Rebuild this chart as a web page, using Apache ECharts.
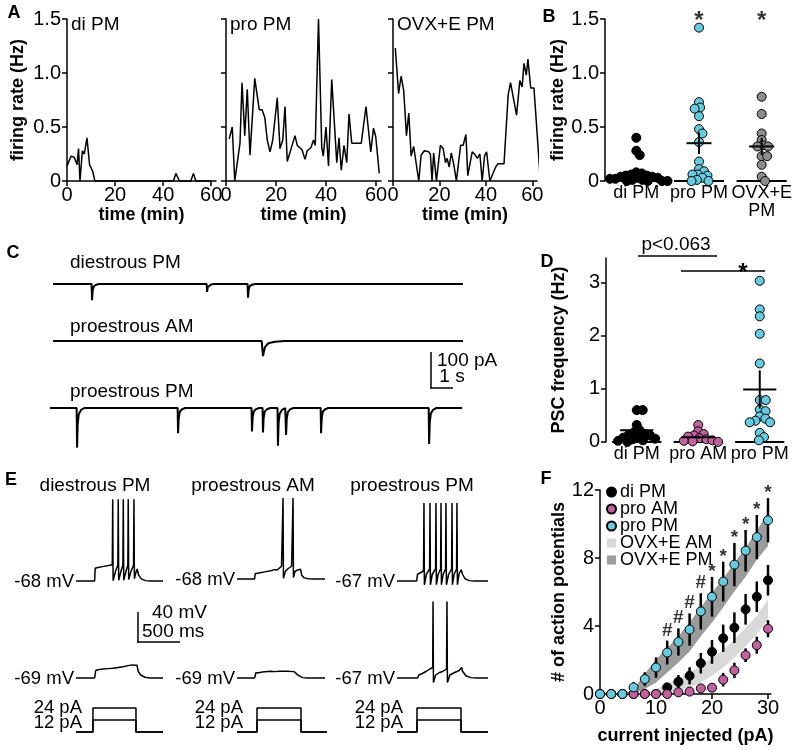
<!DOCTYPE html>
<html><head><meta charset="utf-8">
<script src="https://cdn.jsdelivr.net/npm/echarts@6/dist/echarts.min.js"></script>
<style>html,body{margin:0;padding:0;background:#fff}#c{width:800px;height:750px}</style>
</head><body><div id="c"></div>
<script>
// ================= DATA =================
// Panel A: firing rate traces [time (min), rate (Hz)]
const aTitles = ['di PM', 'pro PM', 'OVX+E PM'];
const aTicks = [0, 20, 40, 60];
const aDiPM = [[0,0.14],[1.7,0.23],[3,0.22],[4.2,0.15],[4.8,0.30],[5.4,0],[6.4,0.28],[7.2,0.25],[8.3,0.40],[9.4,0.15],[10.7,0.09],[11.6,0],[44.3,0],[45.3,0.07],[46.8,0],[51.5,0],[52.6,0.07],[53.6,0],[60,0]];
const aProPM = [[1.3,0.39],[2.5,0.50],[3.5,0],[5.6,0.35],[6.4,0.91],[7.5,0.42],[8.5,0.85],[9.6,0.24],[11.5,0.95],[13.3,0.66],[14.4,0.66],[15.5,0.59],[16.5,0.38],[17.6,0.27],[18.7,0.38],[20.5,0.77],[21.6,0.30],[22.7,0.38],[23.6,0.69],[24.5,0.18],[27.6,0.42],[28.5,0.33],[30.4,0.29],[31.6,0.20],[32.5,0.28],[34,0.31],[35,0.38],[35.7,0.33],[37,1.5],[38.3,0.31],[38.9,0.23],[40,0.50],[41,0.14],[42.3,0.94],[44.3,0.17],[45.2,0.40],[46.1,0.10],[47.2,0.33],[48.3,0.17],[49.2,0.62],[50.3,0.35],[54.1,0.35],[56,0.69],[57.9,0.27],[59,0.49],[59.9,0.41],[61.3,0.07]];
const aOvxPM = [[1,1.23],[2.4,0.81],[3.5,0.97],[4.6,0.84],[5.8,0.42],[6.8,0.63],[7.8,0.23],[8.9,0.32],[11.1,0],[12.1,0.24],[13.5,0.28],[15.4,0.27],[16.1,0.25],[16.8,0],[17.5,0.26],[18.7,0],[20.4,0.33],[21.6,0.30],[22.6,0.17],[23.3,0.21],[24.2,0.13],[25.1,0.26],[26.2,0.15],[27.3,0],[29.1,0.33],[30.2,0.33],[31.4,0.43],[32.2,0.05],[34.1,0.27],[35.1,0.25],[36.3,0.21],[37.4,0.25],[38.4,0],[39.4,0.23],[40.3,0.27],[41.7,0],[44.2,0.13],[45.2,0.16],[47.8,0.16],[49.6,0.80],[50.6,0.91],[53.2,0.61],[54.6,0.93],[55.6,0.87],[56.4,1.09],[57.4,0.98],[58.1,1.13],[59.3,0.86],[60.7,0.86],[63.3,0.05]];

// Panel B: firing rate per cell (Hz)
const bCats = ['di PM', 'pro PM', 'OVX+E\nPM'];
const bDiPM = [0.40,0.28,0.24,0.08,0.07,0.06,0.05,0.05,0.04,0.04,0.03,0.03,0.02,0.02,0.01,0.01,0,0,0,0];
const bProPM = [1.42,0.73,0.68,0.67,0.60,0.48,0.44,0.36,0.18,0.11,0.09,0.06,0.06,0.05,0.03,0.01,0,0];
const bOvxPM = [0.78,0.62,0.44,0.38,0.33,0.32,0.32,0.23,0.23,0.15,0.04,0];
const bMean = [0.08, 0.35, 0.32];
const bSem = [0.035, 0.10, 0.08];
const bSig = ['', '*', '*'];

// Panel C: PSC events [time (s), amplitude (pA)]
const cLabels = ['diestrous PM', 'proestrous AM', 'proestrous PM'];
const cDiEvents = [[1.91,45],[7.14,22],[9.0,38]];
const cAmEvents = [[9.68,42]];
const cPmEvents = [[1.23,110],[5.82,70],[9.18,65],[9.68,68],[10.36,105],[10.73,75],[12.32,70],[17.23,100]];
const cSpan = [[0.14,18.77],[0.14,18.77],[0,18.73]];
const cDecay = [1, 3, 1];

// Panel D: PSC frequency per cell (Hz)
const dCats = ['di PM', 'pro AM', 'pro PM'];
const dDiPM = [0.60,0.60,0.32,0.22,0.18,0.15,0.13,0.12,0.10,0.08,0.06,0.05,0.03,0.02,0];
const dProAM = [0.32,0.20,0.15,0.12,0.10,0.07,0.05,0.03,0.02,0.01,0];
const dProPM = [3.04,2.50,2.37,2.04,1.48,0.79,0.79,0.61,0.58,0.48,0.44,0.40,0.37,0.37,0.17,0.09,0.03];
const dMean = [0.22, 0.09, 0.99];
const dSem = [0.06, 0.03, 0.36];

// Panel E: membrane potential traces [time (ms), mV]
const eTitles = ['diestrous PM', 'proestrous AM', 'proestrous PM'];
const eTopBaseMv = [-68, -68, -67];
const eBotBaseMv = [-69, -69, -67];
const eTop1 = [[0,-68],[222,-68],[228,-51],[260,-50],[330,-48.5],[405,-47],[432,-46],[437,41],[442,-67.5],[470,-55],[498,-47],[503,41],[508,-67],[535,-55],[558,-47],[563,41],[568,-67],[595,-55],[617,-47],[622,41],[627,-66],[655,-55],[685,-47],[690,41],[695,-65],[712,-57],[728,-52],[745,-60],[780,-65.5],[830,-67.5],[880,-68],[1036,-68]];
const eTop2 = [[0,-68],[210,-68],[216,-61],[260,-60],[330,-58.5],[400,-57],[450,-55.5],[470,-53],[478,-56],[500,-54],[530,-51],[543,-49],[548,40],[553,-67],[575,-58],[610,-54],[650,-51],[662,-49],[667,40],[672,-66],[690,-58],[720,-56],[758,-55],[770,-63],[800,-66.5],[850,-67.7],[920,-68],[1048,-68]];
const eTop3 = [[0,-67],[234,-67],[244,-58],[280,-56],[310,-54],[316,-50],[321,37],[326,-72],[350,-58],[388,-51],[393,37],[398,-72],[420,-58],[459,-51],[464,37],[469,-72],[490,-58],[519,-51],[524,37],[529,-72],[550,-58],[578,-51],[583,37],[588,-72],[615,-58],[650,-51],[655,37],[660,-72],[680,-58],[709,-51],[714,37],[719,-72],[740,-57],[765,-52],[780,-58],[810,-64],[860,-66.5],[920,-67],[1083,-67]];
const eBot1 = [[0,-69],[222,-69],[235,-59],[260,-58],[320,-57],[380,-56.5],[440,-56],[500,-55],[560,-54],[620,-52.5],[667,-51.5],[700,-52],[726,-52],[740,-60],[770,-65],[820,-68],[880,-69],[1036,-69]];
const eBot2 = [[0,-69],[210,-69],[225,-62],[260,-62],[300,-61],[400,-60],[450,-60.5],[500,-60],[600,-60],[680,-60.5],[700,-62],[730,-65.5],[780,-68.5],[830,-69],[1048,-69]];
const eBot3 = [[0,-67],[245,-67],[260,-63],[300,-61],[350,-58],[390,-55],[425,-53],[429,35],[434,-73],[460,-63],[500,-60],[550,-58],[590,-55],[595,35],[600,-73],[630,-63],[680,-60],[740,-57],[770,-53],[780,-58],[820,-64],[880,-66.5],[950,-67],[1083,-67]];
const eStepAmps = [24, 12];
const eStepOn = [202, 238, 238];
const eStepOff = [714, 762, 762];
const eStepEnd = [1036, 1071, 1083];

// Panel F: action potentials vs current
const fCurrent = [0,2,4,6,8,10,12,14,16,18,20,22,24,26,28,30];
const fDiPM    = [0,0,0,0,0,0,0.39,0.72,1.07,1.81,2.48,3.28,3.90,4.98,5.72,6.69];
const fDiErr   = [0,0,0,0,0,0,0.2,0.4,0.5,0.6,0.7,0.8,0.9,0.9,0.9,0.9];
const fProAM   = [0,0,0,0,0,0,0,0.10,0.14,0.33,0.37,0.84,1.39,2.28,2.87,3.84];
const fAMErr   = [0,0,0,0,0,0,0,0.1,0.1,0.2,0.25,0.4,0.45,0.4,0.5,0.5];
const fProPM   = [0,0,0,0.39,0.88,1.56,2.44,3.06,3.79,4.86,5.72,6.61,7.61,8.43,9.23,10.22];
const fPMErr   = [0,0,0,0.3,0.4,0.6,0.7,0.8,0.95,1.07,1.17,1.17,1.27,1.22,1.3,1.3];
const fOvxAMLow  = [0,0,0,0,0,0,0.1,0.2,0.39,0.68,1.07,1.56,2.15,2.83,3.5,4.4];
const fOvxAMHigh = [0,0,0,0,0.05,0.3,0.58,0.88,1.27,1.66,2.1,2.6,3.2,3.9,4.6,5.56];
const fOvxPMLow  = [0,0,0,0,0.3,0.68,1.27,1.85,2.5,3.4,4.2,5.1,6.05,6.9,7.9,8.7];
const fOvxPMHigh = [0,0,0,0.3,1.17,2.05,2.7,3.4,4.2,5.1,5.95,6.8,7.7,8.6,9.6,10.7];
const fSig = ['','','','','','','#','#','#','#','*','*','*','*','*','*'];

// ================= STYLE / LAYOUT =================
const FONT = '"Liberation Sans", Arial, Helvetica, sans-serif';
const TICK = 20, TXT = 19, CAT = 18, NAME = 18;
const CYAN = '#67cbe0', PURPLE = '#c1609f', GRAYPT = '#8c8c8c', BAND_AM = '#d9d9d9', BAND_PM = '#9b9b9b';
const EVENT_SHAPE = [[-0.02,0],[0,-1],[0.03,-0.4],[0.08,-0.15],[0.18,-0.05],[0.33,0]];

const grid = [], xAxis = [], yAxis = [], series = [], graphic = [];
function deep(a, b) {
  const o = Object.assign({}, a);
  for (const k in b) {
    const v = b[k];
    if (v && typeof v === 'object' && !Array.isArray(v) && a[k] && typeof a[k] === 'object' && !Array.isArray(a[k])) o[k] = deep(a[k], v);
    else o[k] = v;
  }
  return o;
}
function ax(extra) {
  return deep({
    axisLine: {show: true, onZero: false, lineStyle: {color: '#000', width: 1.5}},
    axisTick: {show: true, inside: false, length: 5, lineStyle: {color: '#000', width: 1.5}},
    axisLabel: {color: '#000', fontSize: TICK, fontFamily: FONT, margin: 4},
    splitLine: {show: false},
    nameTextStyle: {color: '#000', fontSize: NAME, fontWeight: 'bold', fontFamily: FONT}
  }, extra);
}
function addGrid(r) { grid.push(Object.assign({outerBoundsMode: 'none', containLabel: false, show: false}, r)); return grid.length - 1; }
function addX(c) { xAxis.push(c); return xAxis.length - 1; }
function addY(c) { yAxis.push(c); return yAxis.length - 1; }
function hidden(gi, min, max) { return {type: 'value', gridIndex: gi, min: min, max: max, show: false, splitLine: {show: false}}; }
const fmt1 = v => v === 0 ? '0' : v.toFixed(1);
function text(x, y, t, opt) {
  opt = opt || {};
  graphic.push({type: 'text', silent: true, style: {x: x, y: y, text: t, fill: '#000',
    font: (opt.bold ? 'bold ' : '') + (opt.size || TXT) + 'px ' + FONT,
    align: opt.align || 'left', verticalAlign: opt.va || 'middle'}});
}
function line(x1, y1, x2, y2, w) {
  graphic.push({type: 'line', silent: true, shape: {x1: x1, y1: y1, x2: x2, y2: y2}, style: {stroke: '#000', lineWidth: w || 1.5}});
}
function traceLine(xi, yi, data, w) {
  series.push({type: 'line', xAxisIndex: xi, yAxisIndex: yi, data: data, symbol: 'none', silent: true, clip: false,
    lineStyle: {color: '#000', width: w || 1.5}});
}
// beeswarm layout (pixel space, overlap allowed via small spacing) -> offsets in category units
function swarm(values, pxY, pxCat, diam) {
  const placed = [], xs = new Array(values.length);
  const order = values.map((v, i) => i).sort((a, b) => values[b] - values[a]);
  for (const i of order) {
    const y = values[i] * pxY;
    const cands = [0];
    for (const p of placed) {
      const dy = Math.abs(p.y - y);
      if (dy < diam) { const dx = Math.sqrt(diam * diam - dy * dy); cands.push(p.x + dx, p.x - dx); }
    }
    cands.sort((a, b) => Math.abs(a) - Math.abs(b));
    let chosen = 0;
    for (const c of cands) {
      if (placed.every(p => (p.x - c) * (p.x - c) + (p.y - y) * (p.y - y) >= diam * diam - 0.01)) { chosen = c; break; }
    }
    placed.push({x: chosen, y: y});
    xs[i] = chosen / pxCat;
  }
  return xs;
}
function zeroSegs(xi, yi, n, hw) {
  series.push({type: 'custom', xAxisIndex: xi, yAxisIndex: yi, silent: true, clip: false, z: 1,
    data: Array.from({length: n}, (_, i) => [i, 0]),
    renderItem: (p, api) => {
      const a = api.coord([api.value(0) - hw, 0]), b = api.coord([api.value(0) + hw, 0]);
      return {type: 'line', shape: {x1: a[0], y1: a[1], x2: b[0], y2: b[1]}, style: {stroke: '#000', lineWidth: 2}};
    }});
}
function meanBars(xi, yi, means, sems, hw) {
  series.push({type: 'custom', xAxisIndex: xi, yAxisIndex: yi, silent: true, clip: false, z: 6,
    data: means.map((m, i) => [i, m, sems[i]]),
    renderItem: (p, api) => {
      const i = api.value(0), m = api.value(1), s = api.value(2);
      const a = api.coord([i - hw, m]), b = api.coord([i + hw, m]), c = api.coord([i, m - s]), d = api.coord([i, m + s]);
      return {type: 'group', children: [
        {type: 'line', shape: {x1: a[0], y1: a[1], x2: b[0], y2: b[1]}, style: {stroke: '#000', lineWidth: 2}},
        {type: 'line', shape: {x1: c[0], y1: c[1], x2: d[0], y2: d[1]}, style: {stroke: '#000', lineWidth: 2}}]};
    }});
}
function dots(name, xi, yi, pts, color, size, z) {
  series.push({type: 'scatter', name: name, xAxisIndex: xi, yAxisIndex: yi, data: pts, symbol: 'circle', symbolSize: size || 9,
    clip: false, z: z || 3, itemStyle: {color: color, borderColor: '#000', borderWidth: 1, opacity: 1}});
}
function labels(xi, yi, items, size) {
  series.push({type: 'scatter', xAxisIndex: xi, yAxisIndex: yi, symbolSize: 0, clip: false, silent: true, z: 7,
    itemStyle: {color: '#000'},
    data: items, label: {show: true, position: 'inside', formatter: '{b}', color: '#000', fontWeight: 'bold',
      textBorderWidth: 0, fontSize: size || 20, fontFamily: FONT}});
}

// ================= PANEL A =================
const aLayout = [{left: 67, width: 149}, {left: 226, width: 155}, {left: 393, width: 144}];
const aData = [aDiPM, aProPM, aOvxPM];
aData.forEach((d, i) => {
  const gi = addGrid({left: aLayout[i].left, top: 19, width: aLayout[i].width, height: 162});
  const xi = addX(ax({type: 'value', gridIndex: gi, min: 0, max: 62, name: 'time (min)', nameLocation: 'middle', nameGap: 25,
    axisLabel: {customValues: aTicks}, axisTick: {customValues: aTicks}}));
  const yi = addY(ax({type: 'value', gridIndex: gi, min: 0, max: 1.5, interval: 0.5,
    name: i === 0 ? 'firing rate (Hz)' : '', nameLocation: 'middle', nameGap: 40,
    axisLabel: {show: i === 0, formatter: fmt1, margin: 6}}));
  traceLine(xi, yi, d, 1.5);
  text(aLayout[i].left + 4, 25, aTitles[i]);
});

// ================= PANEL B =================
(function () {
  const gi = addGrid({left: 605, top: 19, width: 188, height: 162});
  addX(ax({type: 'category', gridIndex: gi, data: bCats, position: 'bottom', axisLine: {show: false}, axisTick: {show: false},
    axisLabel: {margin: 3, lineHeight: 18, interval: 0, fontSize: CAT}}));
  const xi = addX({type: 'value', gridIndex: gi, min: -0.5, max: 2.5, show: false, position: 'bottom', splitLine: {show: false}});
  const yi = addY(ax({type: 'value', gridIndex: gi, min: 0, max: 1.5, interval: 0.5, name: 'firing rate (Hz)',
    nameLocation: 'middle', nameGap: 37, axisLabel: {formatter: fmt1, margin: 6}}));
  zeroSegs(xi, yi, 3, 0.4);
  const groups = [bDiPM, bProPM, bOvxPM], cols = ['#000', CYAN, GRAYPT];
  groups.forEach((vals, g) => {
    const off = swarm(vals, 108, 188 / 3, 5.5);
    dots('B' + g, xi, yi, vals.map((v, k) => [g + off[k], v]), cols[g]);
  });
  meanBars(xi, yi, bMean, bSem, 0.2);
  labels(xi, yi, bSig.map((s, i) => ({value: [i, 1.48], name: s})), 24);
})();

// ================= PANEL C =================
const cBasePx = [284, 341, 408];
const cLabelY = [263, 327, 392];
const cEvents = [cDiEvents, cAmEvents, cPmEvents];
function buildTrace(evts, t0, t1, k) {
  const pts = [[t0, 0]];
  evts.forEach(([t, a]) => EVENT_SHAPE.forEach(([dt, f]) => pts.push([t + dt * k, f * a])));
  pts.push([t1, 0]);
  return pts;
}
cEvents.forEach((ev, i) => {
  const gi = addGrid({left: 50, top: cBasePx[i] - 6, width: 413, height: 60});
  const xi = addX(hidden(gi, 0, 18.77));
  const yi = addY(hidden(gi, -150, 16.67));
  traceLine(xi, yi, buildTrace(ev, cSpan[i][0], cSpan[i][1], cDecay[i]), 2);
  text(70, cLabelY[i], cLabels[i]);
});
// C scale bar (100 pA / 1 s)
line(431, 352, 431, 388.5); line(430.25, 388, 453, 388);
text(437, 361, '100 pA'); text(452, 377, '1 s', {align: 'center'});

// ================= PANEL D =================
(function () {
  const gi = addGrid({left: 606, top: 258, width: 184.5, height: 183.9});
  addX(ax({type: 'category', gridIndex: gi, data: dCats, position: 'bottom', axisLine: {show: false}, axisTick: {show: false},
    axisLabel: {margin: 3, interval: 0, fontSize: CAT}}));
  const xi = addX({type: 'value', gridIndex: gi, min: -0.5, max: 2.5, show: false, position: 'bottom', splitLine: {show: false}});
  const yi = addY(ax({type: 'value', gridIndex: gi, min: 0, max: 3.47, name: 'PSC frequency (Hz)', nameLocation: 'middle', nameGap: 38,
    axisLabel: {customValues: [0, 1, 2, 3], margin: 6}, axisTick: {customValues: [0, 1, 2, 3]}}));
  zeroSegs(xi, yi, 3, 0.4);
  const groups = [dDiPM, dProAM, dProPM], cols = ['#000', PURPLE, CYAN];
  groups.forEach((vals, g) => {
    const off = swarm(vals, 53, 61.5, 6);
    dots('D' + g, xi, yi, vals.map((v, k) => [g + off[k], v]), cols[g]);
  });
  meanBars(xi, yi, dMean, dSem, 0.27);
})();
line(638, 256, 717, 256); text(676, 245, 'p<0.063', {align: 'center'});
line(681, 271, 765, 271); text(743, 273, '*', {align: 'center', size: 24, bold: true});

// ================= PANEL E =================
const eColLeft = [76, 237, 397];
const eTopBasePx = [581, 579, 581];
const eBotBasePx = [678, 678, 678];
const E_PX_MS = 0.084, E_PX_MV = 0.75, E_XMAX = 1090, E_VMAX = 45, E_VMIN = -75;
const eTopTraces = [eTop1, eTop2, eTop3], eBotTraces = [eBot1, eBot2, eBot3];
const eTitleX = [95, 253, 412];
for (let c = 0; c < 3; c++) {
  const rows = [[eTopTraces[c], eTopBaseMv[c], eTopBasePx[c]], [eBotTraces[c], eBotBaseMv[c], eBotBasePx[c]]];
  rows.forEach(([tr, bmv, bpx]) => {
    const gi = addGrid({left: eColLeft[c], top: bpx - (E_VMAX - bmv) * E_PX_MV, width: E_XMAX * E_PX_MS, height: (E_VMAX - E_VMIN) * E_PX_MV});
    const xi = addX(hidden(gi, 0, E_XMAX));
    const yi = addY(hidden(gi, E_VMIN, E_VMAX));
    traceLine(xi, yi, tr, 1.5);
    text(eColLeft[c] - 2, bpx + 1, bmv + ' mV', {align: 'right', size: 18.5});
  });
  // current step pictogram
  const gs = addGrid({left: eColLeft[c], top: 692, width: E_XMAX * E_PX_MS, height: 40});
  const xs = addX(hidden(gs, 0, E_XMAX));
  const ys = addY(hidden(gs, 0, 40));
  eStepAmps.forEach(a => traceLine(xs, ys, [[0, 0], [eStepOn[c], 0], [eStepOn[c], a], [eStepOff[c], a], [eStepOff[c], 0], [eStepEnd[c], 0]], 1.5));
  text(eColLeft[c] + 6, 708, eStepAmps[0] + ' pA', {align: 'right', size: 18.5});
  text(eColLeft[c] + 6, 723, eStepAmps[1] + ' pA', {align: 'right', size: 18.5});
  text(eTitleX[c], 486, eTitles[c], {align: 'center'});
}
// E scale bar (40 mV / 500 ms)
line(138, 612, 138, 642.75); line(137.25, 642, 180, 642);
text(152, 613, '40 mV'); text(142, 632, '500 ms');

// ================= PANEL F =================
(function () {
  const gi = addGrid({left: 600, top: 490, width: 170.8, height: 204});
  const xi = addX(ax({type: 'value', gridIndex: gi, min: 0, max: 30.5, name: 'current injected (pA)', nameLocation: 'middle', nameGap: 33,
    axisLabel: {customValues: [0, 10, 20, 30]}, axisTick: {customValues: [0, 10, 20, 30]}}));
  const yi = addY(ax({type: 'value', gridIndex: gi, min: 0, max: 12, interval: 4, name: '# of action potentials', nameLocation: 'middle', nameGap: 27,
    axisLabel: {margin: 6}}));
  function band(name, low, high, color) {
    series.push({type: 'custom', name: name, xAxisIndex: xi, yAxisIndex: yi, silent: true, clip: false, z: 1,
      itemStyle: {color: color}, data: [[fCurrent[0], 0]],
      renderItem: (p, api) => {
        const pts = [];
        for (let i = 0; i < fCurrent.length; i++) pts.push(api.coord([fCurrent[i], high[i]]));
        for (let i = fCurrent.length - 1; i >= 0; i--) pts.push(api.coord([fCurrent[i], low[i]]));
        return {type: 'polygon', shape: {points: pts}, style: {fill: color}};
      }});
  }
  band('OVX+E AM', fOvxAMLow, fOvxAMHigh, BAND_AM);
  band('OVX+E PM', fOvxPMLow, fOvxPMHigh, BAND_PM);
  function errBars(vals, errs) {
    series.push({type: 'custom', xAxisIndex: xi, yAxisIndex: yi, silent: true, clip: false, z: 2,
      data: fCurrent.map((c, i) => [c, vals[i], errs[i]]),
      renderItem: (p, api) => {
        const e = api.value(2);
        if (!e) return null;
        const a = api.coord([api.value(0), api.value(1) - e]), b = api.coord([api.value(0), api.value(1) + e]);
        return {type: 'line', shape: {x1: a[0], y1: a[1], x2: b[0], y2: b[1]}, style: {stroke: '#000', lineWidth: 2.5}};
      }});
  }
  errBars(fDiPM, fDiErr); errBars(fProAM, fAMErr); errBars(fProPM, fPMErr);
  dots('di PM', xi, yi, fCurrent.map((c, i) => [c, fDiPM[i]]), '#000', 9, 3);
  dots('pro AM', xi, yi, fCurrent.map((c, i) => [c, fProAM[i]]), PURPLE, 9, 4);
  dots('pro PM', xi, yi, fCurrent.map((c, i) => [c, fProPM[i]]), CYAN, 9, 5);
  labels(xi, yi, fCurrent.map((c, i) => ({value: [c, fProPM[i] + fPMErr[i] + (fSig[i] === '*' ? 0.3 : 0.6)], name: fSig[i]})), 19);
})();

// ================= PANEL LETTERS =================
[['A', 14, 13], ['B', 549, 17], ['C', 13, 253], ['D', 547, 262], ['E', 11, 480], ['F', 546, 479]].forEach(([t, x, y]) => text(x, y, t, {bold: true, align: 'center', size: 18}));

const chart = echarts.init(document.getElementById('c'), null, {renderer: 'canvas', width: 800, height: 750});
chart.setOption({
  animation: false,
  backgroundColor: '#fff',
  textStyle: {fontFamily: FONT},
  grid: grid, xAxis: xAxis, yAxis: yAxis, series: series, graphic: graphic,
  legend: {show: true, orient: 'vertical', left: 601, top: 478, itemGap: -1, itemWidth: 9, itemHeight: 9, selectedMode: false,
    textStyle: {fontSize: 18, fontFamily: FONT, color: '#000', padding: [0, 0, 0, -1]},
    data: [{name: 'di PM', icon: 'circle'}, {name: 'pro AM', icon: 'circle'}, {name: 'pro PM', icon: 'circle'},
           {name: 'OVX+E AM', icon: 'rect'}, {name: 'OVX+E PM', icon: 'rect'}]}
});
</script></body></html>
